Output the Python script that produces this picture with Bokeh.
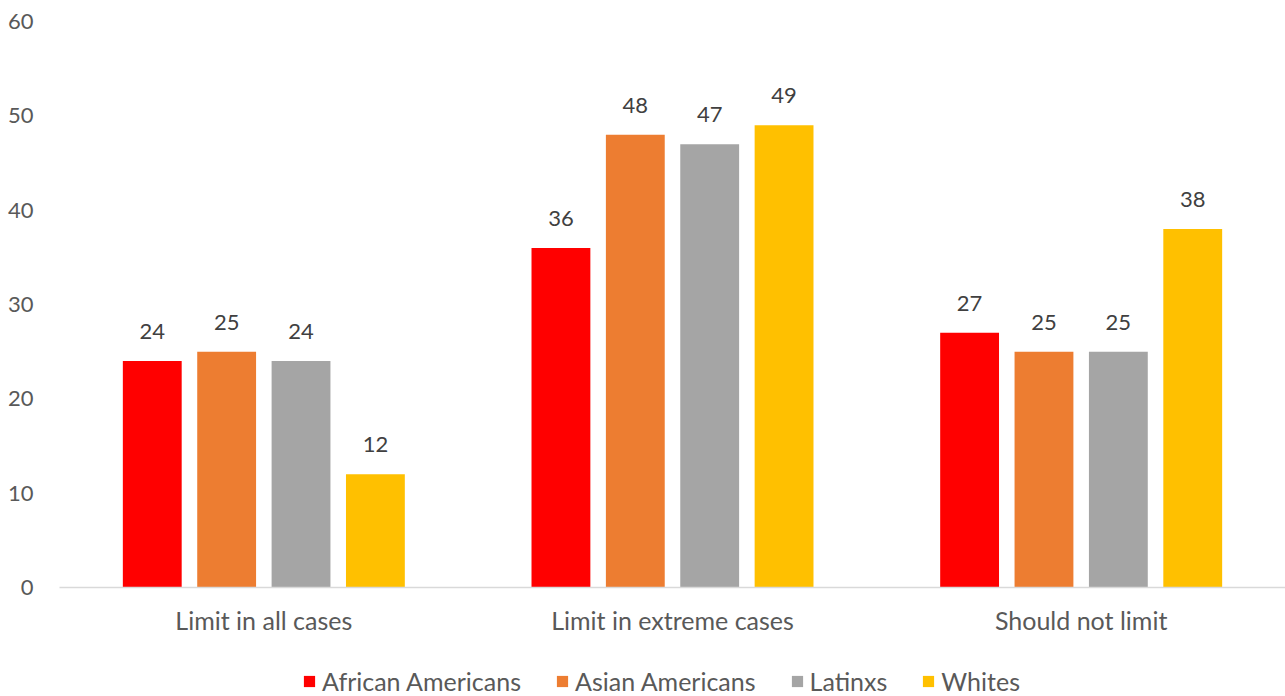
from bokeh.plotting import figure
from bokeh.models import FactorRange, Range1d, ColumnDataSource, Legend, LegendItem, FixedTicker
from bokeh.layouts import column
from bokeh.transform import dodge
from bokeh.core.properties import value
from bokeh.embed import file_html
from bokeh.resources import INLINE

categories = ["Limit in all cases", "Limit in extreme cases", "Should not limit"]
series_names = ["African Americans", "Asian Americans", "Latinxs", "Whites"]
african = [24, 36, 27]
asian = [25, 48, 25]
latinx = [24, 47, 25]
whites = [12, 49, 38]
y_ticks = [0, 10, 20, 30, 40, 50, 60]

colors = ["#FF0000", "#ED7D31", "#A5A5A5", "#FFC000"]
offsets = [-0.273, -0.091, 0.091, 0.273]
FONT = "Lato"

src = ColumnDataSource(dict(cat=categories, s0=african, s1=asian, s2=latinx, s3=whites,
                            t0=[str(v) for v in african], t1=[str(v) for v in asian],
                            t2=[str(v) for v in latinx], t3=[str(v) for v in whites]))

p = figure(x_range=FactorRange(factors=categories, range_padding=0),
           y_range=Range1d(0, 60), width=1285, height=650,
           output_backend="svg", toolbar_location=None,
           min_border_left=59, min_border_top=21, min_border_bottom=63, min_border_right=0)

for i in range(4):
    p.vbar(x=dodge("cat", offsets[i], range=p.x_range), top=f"s{i}", width=0.144,
           source=src, fill_color=colors[i], line_color=None)
    p.text(x=dodge("cat", offsets[i], range=p.x_range), y=f"s{i}", text=f"t{i}", source=src,
           text_align="center", text_baseline="bottom", y_offset=-22,
           text_font=value(FONT), text_font_size="22px", text_color="#404040")

p.grid.visible = False
p.outline_line_color = None
p.background_fill_color = "white"

p.yaxis.ticker = FixedTicker(ticks=y_ticks)
p.yaxis.axis_line_color = None
p.yaxis.major_tick_line_color = None
p.yaxis.minor_tick_line_color = None
p.yaxis.major_label_standoff = 20
p.yaxis.major_label_text_font = FONT
p.yaxis.major_label_text_font_size = "22px"
p.yaxis.major_label_text_color = "#595959"

p.xaxis.axis_line_color = "#D9D9D9"
p.xaxis.axis_line_width = 1.5
p.xaxis.major_tick_line_color = None
p.xaxis.minor_tick_line_color = None
p.xaxis.major_label_standoff = 11
p.xaxis.major_label_text_font = FONT
p.xaxis.major_label_text_font_size = "25px"
p.xaxis.major_label_text_color = "#595959"

# legend strip below the chart
lg = figure(width=1285, height=46, x_range=(0, 1), y_range=(0, 1),
            output_backend="svg", toolbar_location=None,
            x_axis_type=None, y_axis_type=None, min_border=0)
lg.grid.visible = False
lg.outline_line_color = None
swatches = []
for i in range(4):
    swatches.append(lg.vbar(x=[-5], top=[-5], bottom=[-6], width=0.1,
                            fill_color=colors[i], line_color=None))

legend = Legend(items=[LegendItem(label=series_names[i], renderers=[swatches[i]], index=0) for i in range(4)],
                orientation="horizontal", location=(243, 0),
                glyph_width=14, glyph_height=14, label_standoff=6, spacing=34,
                label_text_font=FONT, label_text_font_size="25px", label_text_color="#595959",
                border_line_color=None, background_fill_alpha=0, padding=0, margin=0)
lg.add_layout(legend, "center")

open("out.html", "w").write(file_html(column(p, lg), INLINE))
